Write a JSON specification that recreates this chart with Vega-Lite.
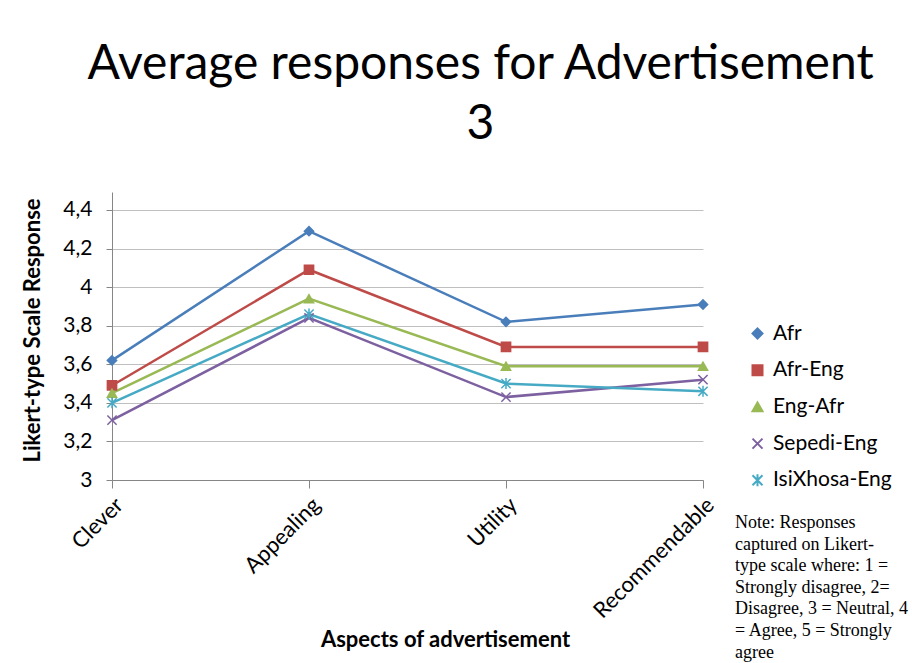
{
  "$schema": "https://vega.github.io/schema/vega-lite/v6.json",
  "autosize": {"type": "none"},
  "width": 591,
  "height": 288,
  "padding": {"left": 112, "top": 192, "right": 209, "bottom": 183},
  "background": "white",
  "config": {
    "view": {"stroke": null},
    "font": "Lato",
    "legend": {
      "title": null,
      "orient": "none",
      "legendX": 635,
      "legendY": 131,
      "symbolSize": 100,
      "symbolStrokeWidth": 2,
      "labelFont": "Lato",
      "labelFontSize": 21,
      "labelColor": "black",
      "labelOffset": 5,
      "rowPadding": 14.7
    }
  },
  "title": {
    "text": ["Average responses for Advertisement", "3"],
    "fontSize": 48,
    "font": "Lato",
    "fontWeight": "normal",
    "color": "black",
    "anchor": "middle",
    "dx": 73,
    "lineHeight": 60,
    "offset": 43
  },
  "data": {
    "values": [
      {"aspect": "Clever", "series": "Afr", "value": 3.62},
      {"aspect": "Appealing", "series": "Afr", "value": 4.29},
      {"aspect": "Utility", "series": "Afr", "value": 3.82},
      {"aspect": "Recommendable", "series": "Afr", "value": 3.91},
      {"aspect": "Clever", "series": "Afr-Eng", "value": 3.49},
      {"aspect": "Appealing", "series": "Afr-Eng", "value": 4.09},
      {"aspect": "Utility", "series": "Afr-Eng", "value": 3.69},
      {"aspect": "Recommendable", "series": "Afr-Eng", "value": 3.69},
      {"aspect": "Clever", "series": "Eng-Afr", "value": 3.45},
      {"aspect": "Appealing", "series": "Eng-Afr", "value": 3.94},
      {"aspect": "Utility", "series": "Eng-Afr", "value": 3.59},
      {"aspect": "Recommendable", "series": "Eng-Afr", "value": 3.59},
      {"aspect": "Clever", "series": "Sepedi-Eng", "value": 3.31},
      {"aspect": "Appealing", "series": "Sepedi-Eng", "value": 3.84},
      {"aspect": "Utility", "series": "Sepedi-Eng", "value": 3.43},
      {"aspect": "Recommendable", "series": "Sepedi-Eng", "value": 3.52},
      {"aspect": "Clever", "series": "IsiXhosa-Eng", "value": 3.40},
      {"aspect": "Appealing", "series": "IsiXhosa-Eng", "value": 3.86},
      {"aspect": "Utility", "series": "IsiXhosa-Eng", "value": 3.50},
      {"aspect": "Recommendable", "series": "IsiXhosa-Eng", "value": 3.46}
    ]
  },
  "layer": [
    {
      "mark": {"type": "line", "strokeWidth": 2.5},
      "encoding": {
        "x": {
          "field": "aspect",
          "type": "nominal",
          "scale": {"type": "point", "padding": 0, "domain": ["Clever", "Appealing", "Utility", "Recommendable"]},
          "axis": {
            "title": "Aspects of advertisement",
            "titleFont": "Lato",
            "titleFontSize": 22,
            "titleFontWeight": "bold",
            "titleColor": "black",
            "titleX": 333,
            "titleY": 166,
            "titleBaseline": "alphabetic",
            "titleAlign": "center",
            "labelAngle": -45,
            "labelAlign": "right",
            "labelBaseline": "top",
            "labelFontSize": 22,
            "labelColor": "black",
            "labelPadding": 6,
            "domainColor": "#868686",
            "tickColor": "#868686",
            "tickSize": 8,
            "grid": false
          }
        },
        "y": {
          "field": "value",
          "type": "quantitative",
          "scale": {"domain": [3, 4.493], "nice": false, "zero": false},
          "axis": {
            "title": "Likert-type  Scale Response",
            "titleFont": "Lato",
            "titleFontSize": 22,
            "titleFontWeight": "bold",
            "titleColor": "black",
            "titleAngle": -90,
            "titleX": -80,
            "titleY": 138,
            "titleAlign": "center",
            "titleBaseline": "middle",
            "values": [3, 3.2, 3.4, 3.6, 3.8, 4, 4.2, 4.4],
            "labelExpr": "replace(format(datum.value, '.1~f'), '.', ',')",
            "labelFontSize": 21,
            "labelColor": "black",
            "labelPadding": 14,
            "domainColor": "#868686",
            "tickColor": "#868686",
            "tickSize": 6,
            "gridColor": "#bfbfbf",
            "gridWidth": 1
          }
        },
        "color": {
          "field": "series",
          "type": "nominal",
          "scale": {
            "domain": ["Afr", "Afr-Eng", "Eng-Afr", "Sepedi-Eng", "IsiXhosa-Eng"],
            "range": ["#4a7ebb", "#be4b48", "#98b954", "#7d60a0", "#46aac5"]
          },
          "legend": {
            "encode": {
              "symbols": {
                "update": {
                  "shape": {"signal": "datum.value === 'Afr' ? 'M-3,0L3,0M0,-0.9L0.9,0L0,0.9L-0.9,0Z' : datum.value === 'Afr-Eng' ? 'M-3,0L3,0M-0.8,-0.8L0.8,-0.8L0.8,0.8L-0.8,0.8Z' : datum.value === 'Eng-Afr' ? 'M-3,0L3,0M0,-0.9L0.9,0.7L-0.9,0.7Z' : datum.value === 'Sepedi-Eng' ? 'M-3,0L3,0M-0.8,-0.8L0.8,0.8M-0.8,0.8L0.8,-0.8' : 'M-3,0L3,0M-0.8,-0.8L0.8,0.8M-0.8,0.8L0.8,-0.8M0,-1L0,1'"}
                }
              }
            }
          }
        }
      }
    },
    {
      "mark": {"type": "point", "filled": true, "size": 85, "strokeWidth": 1.5, "opacity": 1},
      "encoding": {
        "x": {"field": "aspect", "type": "nominal"},
        "y": {"field": "value", "type": "quantitative"},
        "stroke": {
          "field": "series",
          "type": "nominal",
          "scale": {
            "domain": ["Afr", "Afr-Eng", "Eng-Afr", "Sepedi-Eng", "IsiXhosa-Eng"],
            "range": ["#4a7ebb", "#be4b48", "#98b954", "#7d60a0", "#46aac5"]
          },
          "legend": null
        },
        "fill": {
          "field": "series",
          "type": "nominal",
          "scale": {
            "domain": ["Afr", "Afr-Eng", "Eng-Afr", "Sepedi-Eng", "IsiXhosa-Eng"],
            "range": ["#4a7ebb", "#be4b48", "#98b954", "#7d60a0", "#46aac5"]
          },
          "legend": null
        },
        "shape": {
          "field": "series",
          "type": "nominal",
          "scale": {
            "domain": ["Afr", "Afr-Eng", "Eng-Afr", "Sepedi-Eng", "IsiXhosa-Eng"],
            "range": ["diamond", "square", "triangle-up", "M-1,-1L1,1M-1,1L1,-1", "M-1,-1L1,1M-1,1L1,-1M0,-1.2L0,1.2"]
          },
          "legend": null
        }
      }
    },
    {
      "data": {"values": [{"note": "Note: Responses\ncaptured on Likert-\ntype scale where: 1 =\nStrongly disagree, 2=\nDisagree, 3 = Neutral, 4\n= Agree, 5 = Strongly\nagree"}]},
      "mark": {
        "type": "text",
        "align": "left",
        "baseline": "top",
        "lineBreak": "\n",
        "font": "Liberation Serif",
        "fontSize": 18,
        "lineHeight": 21.6,
        "fill": "black",
        "dx": 32,
        "dy": 34
      },
      "encoding": {
        "x": {"datum": "Recommendable", "type": "nominal"},
        "y": {"datum": 3, "type": "quantitative"},
        "text": {"field": "note", "type": "nominal"}
      }
    }
  ]
}
